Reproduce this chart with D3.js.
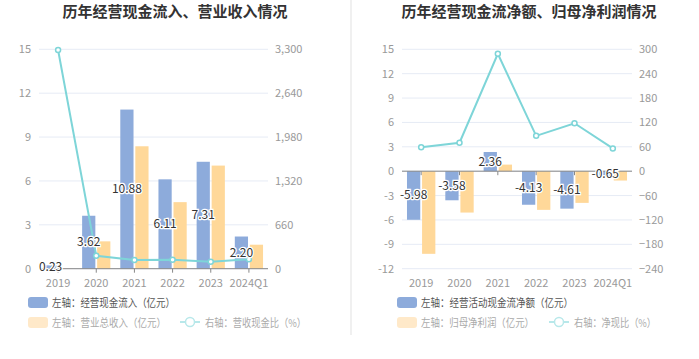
<!DOCTYPE html>
<html>
<head>
<meta charset="utf-8">
<script src="https://cdn.jsdelivr.net/npm/d3@7"></script>
<style>
  body { margin: 0; background: #fff; }
  svg { font-family: "Noto Sans CJK SC", "Noto Sans", sans-serif; }
</style>
</head>
<body>
<div id="chart"></div>
<script>
// data
var years = ["2019", "2020", "2021", "2022", "2023", "2024Q1"];

var cashIn = [0.23, 3.62, 10.88, 6.11, 7.31, 2.20];
var revenue = [0.007, 1.87, 8.37, 4.55, 7.05, 1.64];
var cashInRatio = [3290, 195, 130, 135, 105, 141];

var netCash = [-5.98, -3.58, 2.36, -4.13, -4.61, -0.65];
var netProfit = [-10.17, -5.09, 0.81, -4.76, -3.90, -1.15];
var netRatio = [59, 70, 289, 87, 118, 56];

var leftTicks1 = [0, 3, 6, 9, 12, 15];
var rightTicks1 = [0, 660, 1320, 1980, 2640, 3300];
var leftTicks2 = [-12, -9, -6, -3, 0, 3, 6, 9, 12, 15];
var rightTicks2 = [-240, -180, -120, -60, 0, 60, 120, 180, 240, 300];

var blue = "#8dabdb", orange = "#ffd899", cyan = "#7ed5d8";

var svg = d3.select("#chart").append("svg")
    .attr("width", 699)
    .attr("height", 359);

// divider
svg.append("line")
    .attr("x1", 351).attr("x2", 351)
    .attr("y1", 0).attr("y2", 335)
    .attr("stroke", "#f0f0f0")
    .attr("stroke-width", 2);

function drawChart(opt) {
    var g = svg.append("g");

    g.append("text")
        .attr("x", opt.cx)
        .attr("y", 17)
        .attr("text-anchor", "middle")
        .attr("font-size", "15px")
        .attr("font-weight", "bold")
        .attr("fill", "#333")
        .text(opt.title);

    var x0 = d3.scaleBand().domain(years).range([opt.left, opt.right]);
    var x1 = d3.scaleBand().domain([0, 1])
        .range([x0.bandwidth() * 0.13, x0.bandwidth() * 0.87])
        .paddingInner(0.12);

    var yL = d3.scaleLinear().domain(opt.lDomain).range([268.7, 49.3]);
    var yR = d3.scaleLinear().domain(opt.rDomain).range([268.7, 49.3]);

    // grid
    g.selectAll(".grid").data(opt.lTicks).enter().append("line")
        .attr("x1", opt.left).attr("x2", opt.right)
        .attr("y1", function(d) { return yL(d); })
        .attr("y2", function(d) { return yL(d); })
        .attr("stroke", "#e6ebf5")
        .attr("stroke-width", 1);

    // left axis labels
    g.selectAll(".ltick").data(opt.lTicks).enter().append("text")
        .attr("x", opt.left - 8)
        .attr("y", function(d) { return yL(d) + 4; })
        .attr("text-anchor", "end")
        .attr("font-size", "11px")
        .attr("fill", "#999")
        .text(function(d) { return d; });

    // right axis labels
    g.selectAll(".rtick").data(opt.rTicks).enter().append("text")
        .attr("x", opt.right + 7)
        .attr("y", function(d) { return yR(d) + 4; })
        .attr("text-anchor", "start")
        .attr("font-size", "11px")
        .attr("fill", "#999")
        .text(function(d) { return d3.format(",")(d); });

    // bars
    var series = [opt.a, opt.b];
    var colors = [blue, orange];
    series.forEach(function(vals, si) {
        g.selectAll(".bar" + si).data(vals).enter().append("rect")
            .attr("x", function(d, i) { return x0(years[i]) + x1(si); })
            .attr("width", x1.bandwidth())
            .attr("y", function(d) { return yL(Math.max(0, d)); })
            .attr("height", function(d) { return Math.abs(yL(d) - yL(0)); })
            .attr("fill", colors[si]);
    });

    // zero axis line
    g.append("line")
        .attr("x1", opt.left).attr("x2", opt.right)
        .attr("y1", yL(0)).attr("y2", yL(0))
        .attr("stroke", "#888");

    g.selectAll(".xtick").data(years).enter().append("line")
        .attr("x1", function(d) { return x0(d) + x0.bandwidth() / 2; })
        .attr("x2", function(d) { return x0(d) + x0.bandwidth() / 2; })
        .attr("y1", yL(0)).attr("y2", yL(0) + 4)
        .attr("stroke", "#888");

    // x labels
    g.selectAll(".xlab").data(years).enter().append("text")
        .attr("x", function(d) { return x0(d) + x0.bandwidth() / 2; })
        .attr("y", 287)
        .attr("text-anchor", "middle")
        .attr("font-size", "11px")
        .attr("fill", "#999")
        .text(function(d) { return d; });

    // line
    var line = d3.line()
        .x(function(d, i) { return x0(years[i]) + x0.bandwidth() / 2; })
        .y(function(d) { return yR(d); });

    g.append("path")
        .datum(opt.ratio)
        .attr("d", line)
        .attr("fill", "none")
        .attr("stroke", cyan)
        .attr("stroke-width", 2);

    g.selectAll(".dot").data(opt.ratio).enter().append("circle")
        .attr("cx", function(d, i) { return x0(years[i]) + x0.bandwidth() / 2; })
        .attr("cy", function(d) { return yR(d); })
        .attr("r", 2.5)
        .attr("fill", "#fff")
        .attr("stroke", cyan)
        .attr("stroke-width", 1.5);

    // value labels on blue bars
    g.selectAll(".vlab").data(opt.a).enter().append("text")
        .attr("x", function(d, i) { return x0(years[i]) + x1(0) + x1.bandwidth() / 2; })
        .attr("y", function(d) { return (yL(d) + yL(0)) / 2 + 4; })
        .attr("text-anchor", "middle")
        .attr("font-size", "12px")
        .attr("fill", "#333")
        .attr("stroke", "#fff")
        .attr("stroke-width", 2.5)
        .attr("paint-order", "stroke")
        .text(function(d) { return d.toFixed(2); });

    // legend
    var lg = g.append("g").attr("font-size", "11px");
    lg.append("rect")
        .attr("x", opt.legX).attr("y", 297)
        .attr("width", 20).attr("height", 11).attr("rx", 3)
        .attr("fill", blue);
    lg.append("text")
        .attr("x", opt.legX + 24).attr("y", 306.5)
        .attr("fill", "#555")
        .attr("textLength", opt.legW[0])
        .attr("lengthAdjust", "spacingAndGlyphs")
        .text(opt.legA);

    lg.append("rect")
        .attr("x", opt.legX).attr("y", 317)
        .attr("width", 20).attr("height", 11).attr("rx", 3)
        .attr("fill", "#ffe9c9");
    lg.append("text")
        .attr("x", opt.legX + 24).attr("y", 326.5)
        .attr("fill", "#aaa")
        .attr("textLength", opt.legW[1])
        .attr("lengthAdjust", "spacingAndGlyphs")
        .text(opt.legB);

    lg.append("line")
        .attr("x1", opt.legLineX).attr("x2", opt.legLineX + 20)
        .attr("y1", 322).attr("y2", 322)
        .attr("stroke", "#b8e8ea").attr("stroke-width", 2);
    lg.append("circle")
        .attr("cx", opt.legLineX + 10).attr("cy", 322).attr("r", 4.5)
        .attr("fill", "#fff").attr("stroke", "#b8e8ea").attr("stroke-width", 1.5);
    lg.append("text")
        .attr("x", opt.legLineX + 25).attr("y", 326.5)
        .attr("fill", "#aaa")
        .attr("textLength", opt.legW[2])
        .attr("lengthAdjust", "spacingAndGlyphs")
        .text(opt.legC);
}

drawChart({
    title: "历年经营现金流入、营业收入情况",
    cx: 175,
    left: 39, right: 268,
    lDomain: [0, 15], rDomain: [0, 3300],
    lTicks: leftTicks1, rTicks: rightTicks1,
    a: cashIn, b: revenue, ratio: cashInRatio,
    legX: 28, legLineX: 180, legW: [123, 114, 101],
    legA: "左轴：经营现金流入（亿元）",
    legB: "左轴：营业总收入（亿元）",
    legC: "右轴：营收现金比（%）"
});

drawChart({
    title: "历年经营现金流净额、归母净利润情况",
    cx: 529,
    left: 402, right: 632,
    lDomain: [-12, 15], rDomain: [-240, 300],
    lTicks: leftTicks2, rTicks: rightTicks2,
    a: netCash, b: netProfit, ratio: netRatio,
    legX: 397, legLineX: 549, legW: [152, 113, 82],
    legA: "左轴：经营活动现金流净额（亿元）",
    legB: "左轴：归母净利润（亿元）",
    legC: "右轴：净现比（%）"
});
</script>
</body>
</html>
